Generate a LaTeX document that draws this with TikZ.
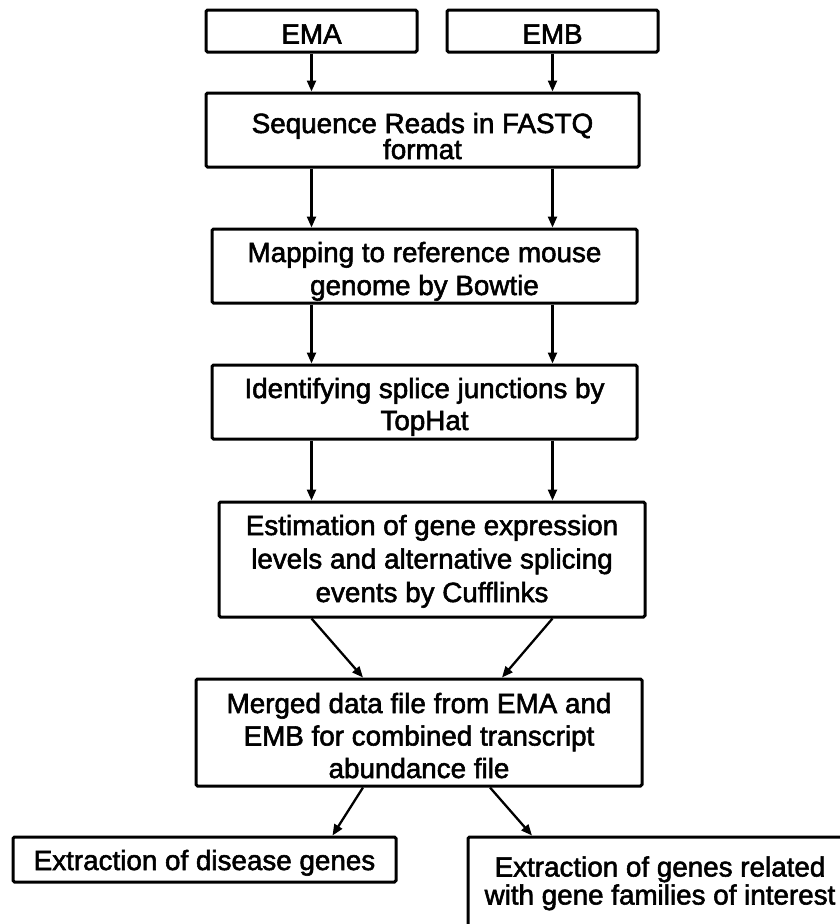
\documentclass[tikz,border=0pt]{standalone}
\usepackage{fontspec}
\setmainfont{Liberation Sans}
\newfontfamily\boxfont{Liberation Sans}[FakeBold=2]
\newcommand{\upst}[1]{\rule{0pt}{#1pt}}
\newcommand{\dnst}[1]{\rule[-#1pt]{0pt}{#1pt}}
\usetikzlibrary{arrows.meta}
\begin{document}
\begin{tikzpicture}[x=1pt,y=-1pt,
  box/.style={draw=black, line width=3pt, rounded corners=1.5pt, align=center, inner sep=0pt, font=\boxfont\fontsize{27.8}{33}\selectfont},
  arr/.style={line width=2.3pt, -{Triangle[length=11pt,width=9pt]}}]
\useasboundingbox (0,0) rectangle (840,924);
\clip (0,0) rectangle (840,924);
\node[box, minimum width=211pt, minimum height=42pt] (ema) at (311.5,31) {\upst{33}EMA\dnst{8}};
\node[box, minimum width=211pt, minimum height=42pt] (emb) at (552.5,31) {\upst{33}EMB\dnst{8}};
\node[box, minimum width=433pt, minimum height=74pt, font=\boxfont\fontsize{27.8}{26}\selectfont] (seq) at (422.5,130) {\upst{40}Sequence Reads in FASTQ\\format\dnst{8}};
\node[box, minimum width=425pt, minimum height=74pt] (map) at (424.5,266) {\upst{33}Mapping to reference mouse\\genome by Bowtie\dnst{8}};
\node[box, minimum width=425pt, minimum height=74pt, font=\boxfont\fontsize{27.8}{32}\selectfont] (ident) at (424.5,402) {\upst{32}Identifying splice junctions by\\TopHat\dnst{8}};
\node[box, minimum width=426pt, minimum height=115pt, font=\boxfont\fontsize{27.8}{33.5}\selectfont] (est) at (432,559.5) {\upst{26}Estimation of gene expression\\levels and alternative splicing\\events by Cufflinks\dnst{8}};
\node[box, minimum width=446pt, minimum height=105pt, font=\boxfont\fontsize{27.8}{32.5}\selectfont] (merged) at (419,732.5) {\upst{34}Merged data file from EMA and\\EMB for combined transcript\\abundance file\dnst{8}};
\node[box, minimum width=383pt, minimum height=45pt] (dis) at (204.5,859.5) {\upst{29}Extraction of disease genes\dnst{8}};
\node[box, minimum width=384pt, minimum height=100pt, font=\boxfont\fontsize{27.8}{28}\selectfont] (right) at (660,887) {\upst{27}Extraction of genes related\\with gene families of interest\dnst{20}};
\draw[arr] (ema.south) -- (seq.north -| ema.south);
\draw[arr] (emb.south) -- (seq.north -| emb.south);
\draw[arr] (seq.south -| ema) -- (map.north -| ema);
\draw[arr] (seq.south -| emb) -- (map.north -| emb);
\draw[arr] (map.south -| ema) -- (ident.north -| ema);
\draw[arr] (map.south -| emb) -- (ident.north -| emb);
\draw[arr] (ident.south -| ema) -- (est.north -| ema);
\draw[arr] (ident.south -| emb) -- (est.north -| emb);
\draw[arr] (est.south -| ema) -- ([xshift=-56pt]merged.north);
\draw[arr] (est.south -| emb) -- ([xshift=83pt]merged.north);
\draw[arr] ([xshift=-56pt]merged.south) -- ([xshift=128pt]dis.north);
\draw[arr] ([xshift=71pt]merged.south) -- ([xshift=-128pt]right.north);
\end{tikzpicture}
\end{document}
